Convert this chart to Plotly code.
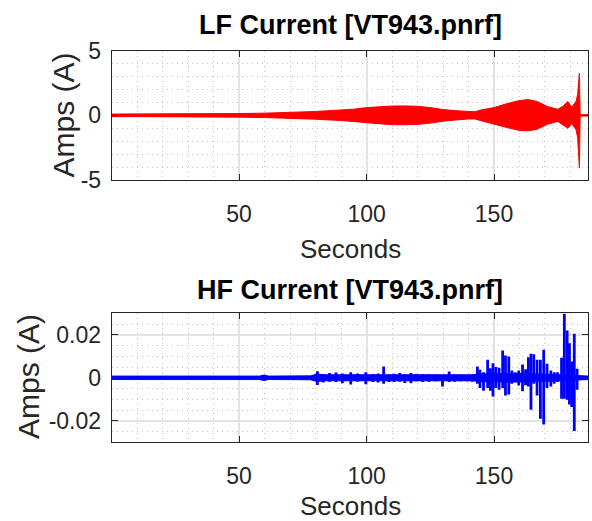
import plotly.graph_objects as go

# ---------------- data ----------------
# LF current: envelope of a dense oscillation (A) vs time (s)
lf_t = [0, 10, 20, 30, 40, 50, 60, 70, 80, 90,
        95, 100, 105, 110, 115, 120, 125, 130, 135, 140,
        142.5, 145, 150, 155, 160, 163.5, 167, 171, 175, 177,
        179, 180.5, 182.2, 182.8, 183.2, 183.5, 183.8, 184.3, 187]
lf_upper = [0.10, 0.10, 0.10, 0.11, 0.12, 0.14, 0.17, 0.22, 0.30, 0.42,
            0.48, 0.60, 0.68, 0.72, 0.73, 0.70, 0.60, 0.45, 0.36, 0.28,
            0.28, 0.42, 0.60, 0.90, 1.15, 1.22, 1.07, 0.68, 0.47, 0.70,
            1.07, 0.63, 1.10, 1.60, 2.40, 3.26, 0.10, 0.05, 0.05]
lf_lower = [-0.10, -0.10, -0.10, -0.11, -0.12, -0.14, -0.17, -0.22, -0.30, -0.40,
            -0.45, -0.55, -0.65, -0.72, -0.73, -0.70, -0.60, -0.45, -0.36, -0.28,
            -0.28, -0.42, -0.65, -0.94, -1.17, -1.20, -1.07, -0.68, -0.47, -0.70,
            -1.00, -0.63, -1.12, -1.70, -2.60, -4.08, -0.10, -0.05, -0.05]

# HF current: low-level noise band
hf_band_t = [0, 58, 59.8, 61.5, 78, 80.7, 83, 142, 144, 160, 172, 176, 183, 187]
hf_band_up = [0.0008, 0.0008, 0.0013, 0.0008, 0.0009, 0.0018, 0.0014, 0.0014,
              0.0018, 0.0020, 0.0016, 0.0014, 0.0009, 0.0008]
hf_band_lo = [-0.0008, -0.0008, -0.0013, -0.0008, -0.0009, -0.0018, -0.0014, -0.0014,
              -0.0018, -0.0020, -0.0016, -0.0014, -0.0009, -0.0008]

# HF current: individual bursts (time, positive peak, negative peak)
hf_t = [80.7, 83.0, 85.5, 88.0, 90.5, 93.8, 96.5, 99.7, 102.5, 104.5,
        106.7, 108.8, 110.8, 113.0, 115.0, 117.4, 119.5, 122.0, 124.5, 127.0,
        129.8, 132.4, 134.5, 137.0, 139.5, 141.5,
        143.5, 144.5, 145.9, 147.5, 148.6, 149.6, 150.7, 152.0, 153.4, 154.5,
        155.8, 157.0, 158.3, 159.7, 161.2, 162.4, 163.5, 164.5, 165.6, 166.9,
        168.2, 169.5, 170.8, 172.3, 173.6, 174.9, 176.5, 177.6, 178.7, 179.6,
        180.5, 181.5, 182.6]
hf_top = [0.0030, 0.0018, 0.0022, 0.0025, 0.0020, 0.0026, 0.0020, 0.0026, 0.0018, 0.0020,
          0.0053, 0.0015, 0.0019, 0.0022, 0.0016, 0.0022, 0.0018, 0.0017, 0.0016, 0.0015,
          0.0008, 0.0029, 0.0014, 0.0015, 0.0012, 0.0016,
          0.0053, 0.0037, 0.0026, 0.0084, 0.0045, 0.0068, 0.0050, 0.0047, 0.0127, 0.0104,
          0.0099, 0.0034, 0.0026, 0.0034, 0.0062, 0.0040, 0.0096, 0.0112, 0.0109, 0.0084,
          0.0084, 0.0130, 0.0065, 0.0034, 0.0026, 0.0026, 0.0093, 0.0298, 0.0220, 0.0161,
          0.0076, 0.0205, 0.0042]
hf_bot = [-0.0034, -0.0022, -0.0018, -0.0020, -0.0025, -0.0031, -0.0018, -0.0030, -0.0020, -0.0022,
          -0.0028, -0.0020, -0.0020, -0.0018, -0.0024, -0.0025, -0.0016, -0.0020, -0.0018, -0.0016,
          -0.0040, -0.0020, -0.0018, -0.0016, -0.0016, -0.0018,
          -0.0028, -0.0047, -0.0060, -0.0047, -0.0060, -0.0087, -0.0047, -0.0056, -0.0047, -0.0082,
          -0.0078, -0.0028, -0.0020, -0.0036, -0.0062, -0.0035, -0.0040, -0.0149, -0.0028, -0.0082,
          -0.0191, -0.0217, -0.0047, -0.0040, -0.0028, -0.0020, -0.0098, -0.0098, -0.0102, -0.0124,
          -0.0136, -0.0248, -0.0056]

x_ticks = [50, 100, 150]
lf_yticks = [-5, 0, 5]
lf_yticklabels = ["-5", "0", "5"]
hf_yticks = [-0.02, 0, 0.02]
hf_yticklabels = ["-0.02", "0", "0.02"]

title_lf = "LF Current [VT943.pnrf]"
title_hf = "HF Current [VT943.pnrf]"
xlabel = "Seconds"
ylabel = "Amps (A)"

# ---------------- figure ----------------
FONT = "Liberation Sans, Arial, Helvetica, sans-serif"
AX = "#262626"

fig = go.Figure()

fig.add_trace(go.Scatter(
    x=lf_t + lf_t[::-1], y=lf_upper + lf_lower[::-1],
    fill="toself", fillcolor="#ff0000", mode="lines",
    line=dict(color="#ff0000", width=1), xaxis="x", yaxis="y",
    hoverinfo="skip", showlegend=False))

fig.add_trace(go.Scatter(
    x=hf_band_t + hf_band_t[::-1], y=hf_band_up + hf_band_lo[::-1],
    fill="toself", fillcolor="#0000ff", mode="lines",
    line=dict(color="#0000ff", width=1), xaxis="x2", yaxis="y2",
    hoverinfo="skip", showlegend=False))

sx, sy = [], []
for t, a, b in zip(hf_t, hf_top, hf_bot):
    sx += [t, t, None]
    sy += [b, a, None]
fig.add_trace(go.Scatter(
    x=sx, y=sy, mode="lines", line=dict(color="#0000ff", width=2.8),
    xaxis="x2", yaxis="y2", hoverinfo="skip", showlegend=False))

W, H = 592, 521
xdom = [111.7 / W, 588.3 / W]
ydom_top = [1 - 180.0 / H, 1 - 50.7 / H]
ydom_bot = [1 - 442.3 / H, 1 - 313.3 / H]

grid_major = "#e3e3e3"
grid_minor = "#c4c4c4"

def xaxis(anchor):
    return dict(
        domain=xdom, anchor=anchor, range=[0, 187], automargin=False,
        tickmode="array", tickvals=x_ticks, ticktext=[str(v) for v in x_ticks],
        ticks="inside", ticklen=6, tickwidth=1, tickcolor=AX,
        showline=True, linecolor=AX, linewidth=1, mirror="ticks",
        showgrid=True, gridcolor=grid_major, gridwidth=1.5, zeroline=False,
        minor=dict(tick0=0, dtick=10, showgrid=True, gridcolor=grid_minor,
                   griddash="1px,4px", gridwidth=1, ticks=""),
        tickfont=dict(family=FONT, size=23, color=AX),
        ticklabelstandoff=13,
    )

def yaxis(anchor, dom, rng, tv, tt, mdt):
    return dict(
        domain=dom, anchor=anchor, range=rng, automargin=False,
        tickmode="array", tickvals=tv, ticktext=tt,
        ticks="inside", ticklen=6, tickwidth=1, tickcolor=AX,
        showline=True, linecolor=AX, linewidth=1, mirror="ticks",
        showgrid=True, gridcolor=grid_major, gridwidth=1.5, zeroline=False,
        minor=dict(tick0=0, dtick=mdt, showgrid=True, gridcolor=grid_minor,
                   griddash="1px,4px", gridwidth=1, ticks=""),
        tickfont=dict(family=FONT, size=23, color=AX),
        ticklabelstandoff=5,
    )

ann = [
    dict(text=f"<b>{title_lf}</b>", x=(xdom[0] + xdom[1]) / 2, y=1 - 25 / H,
         xref="paper", yref="paper", xanchor="center", yanchor="middle",
         showarrow=False, font=dict(family=FONT, size=27, color="#000000")),
    dict(text=f"<b>{title_hf}</b>", x=(xdom[0] + xdom[1]) / 2, y=1 - 290 / H,
         xref="paper", yref="paper", xanchor="center", yanchor="middle",
         showarrow=False, font=dict(family=FONT, size=27, color="#000000")),
    dict(text=xlabel, x=(xdom[0] + xdom[1]) / 2, y=1 - 249 / H,
         xref="paper", yref="paper", xanchor="center", yanchor="middle",
         showarrow=False, font=dict(family=FONT, size=26, color=AX)),
    dict(text=xlabel, x=(xdom[0] + xdom[1]) / 2, y=1 - 506 / H,
         xref="paper", yref="paper", xanchor="center", yanchor="middle",
         showarrow=False, font=dict(family=FONT, size=26, color=AX)),
    dict(text=ylabel, x=63 / W, y=1 - 115.5 / H, textangle=-90,
         xref="paper", yref="paper", xanchor="center", yanchor="middle",
         showarrow=False, font=dict(family=FONT, size=30, color=AX)),
    dict(text=ylabel, x=28 / W, y=1 - 377 / H, textangle=-90,
         xref="paper", yref="paper", xanchor="center", yanchor="middle",
         showarrow=False, font=dict(family=FONT, size=30, color=AX)),
]

fig.update_layout(
    template="none",
    width=W, height=H,
    margin=dict(l=0, r=0, t=0, b=0, pad=0),
    paper_bgcolor="#ffffff", plot_bgcolor="#ffffff",
    showlegend=False,
    xaxis=xaxis("y"),
    yaxis=yaxis("x", ydom_top, [-5, 5], lf_yticks, lf_yticklabels, 1),
    xaxis2=xaxis("y2"),
    yaxis2=yaxis("x2", ydom_bot, [-0.03, 0.03], hf_yticks, hf_yticklabels, 0.005),
    annotations=ann,
)

fig.write_html("out.html")
